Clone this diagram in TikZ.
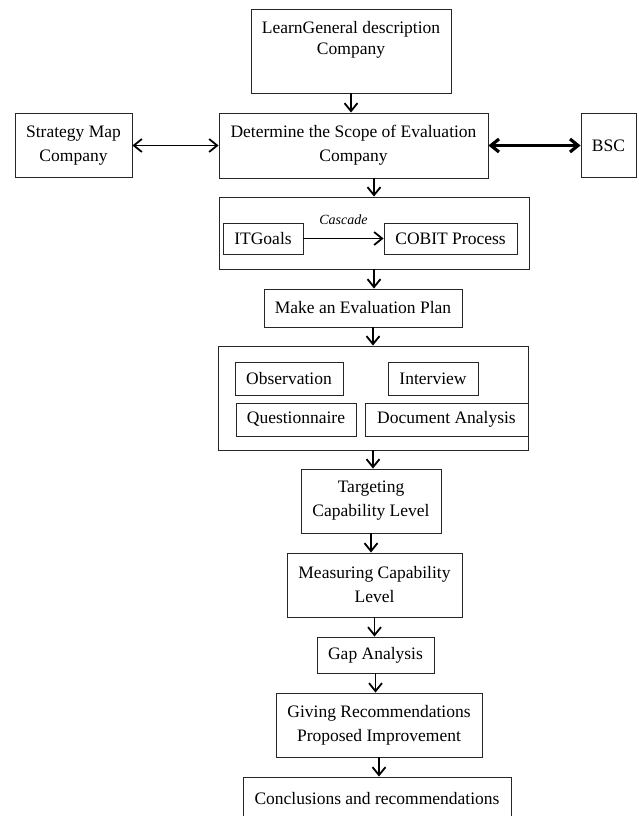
\documentclass[tikz,border=0pt]{standalone}
\usepackage{fontspec}
\setmainfont{Liberation Serif}
\usetikzlibrary{arrows.meta}
\tikzstyle{box}=[draw=black!85,line width=.9pt,rectangle,inner sep=0pt,align=center,
  font=\fontsize{17.5}{24}\selectfont]
\tikzstyle{flow}=[-{Straight Barb[length=8pt,width=13pt]},line width=1.8pt]
\tikzstyle{both}=[{Straight Barb[length=8pt,width=13pt]}-{Straight Barb[length=8pt,width=13pt]},
  line width=1.8pt]

\begin{document}
\begin{tikzpicture}[x=1pt,y=-1pt]
  \useasboundingbox (0,0) rectangle (638,816);

  % top row
  \node[box, minimum width=200pt, minimum height=84pt,
    label={[name=learntxt, anchor=north, inner sep=0pt, yshift=-13pt, align=center,
      font=\fontsize{17.5}{21}\selectfont]north:LearnGeneral description\\Company}]
    (learn) at (351,51) {};
  \node[box, minimum width=269pt, minimum height=65pt] (scope) at (353.5,145.5)
    {Determine the Scope of Evaluation\\Company};
  \node[box, minimum width=117pt, minimum height=64pt] (smap) at (73.5,145.5)
    {Strategy Map\\Company};
  \node[box, minimum width=55pt, minimum height=64pt] (bsc) at (608.5,145.5) {BSC};

  % cascade
  \node[box, minimum width=310pt, minimum height=72pt] (cascade) at (374,233) {};
  \node[box, minimum width=80pt, minimum height=31pt] (itgoals) at (263,238.5) {ITGoals};
  \node[box, minimum width=133pt, minimum height=31pt] (cobit) at (450.5,238.5) {COBIT Process};

  \node[box, minimum width=198pt, minimum height=38pt] (plan) at (363,308)
    {Make an Evaluation Plan};

  % data collection
  \node[box, minimum width=310pt, minimum height=104pt] (collect) at (373,398) {};
  \node[box, minimum width=108pt, minimum height=33pt] (obs) at (289,378.5) {Observation};
  \node[box, minimum width=90pt, minimum height=33pt] (interview) at (433,378.5) {Interview};
  \node[box, minimum width=120pt, minimum height=33pt] (quest) at (296,419.5) {Questionnaire};
  \node[box, minimum width=163pt, minimum height=33pt] (docana) at (446.5,419.5)
    {Document Analysis};

  \node[box, minimum width=140pt, minimum height=64pt] (target) at (371,501)
    {Targeting\\Capability Level};
  \node[box, minimum width=175pt, minimum height=64pt] (measure) at (374.5,585)
    {Measuring Capability\\Level};
  \node[box, minimum width=117pt, minimum height=36pt] (gap) at (375.5,655) {Gap Analysis};
  \node[box, minimum width=206pt, minimum height=64pt] (giving) at (379,725)
    {Giving Recommendations\\Proposed Improvement};
  \node[box, minimum width=268pt, minimum height=44pt] (concl) at (377,799)
    {Conclusions and recommendations};

  \draw[flow] (learn.south) -- (learn.south |- scope.north);
  \draw[both] (smap.east) -- (scope.west);
  \draw[both, line width=3.2pt] (scope.east) -- (bsc.west);
  \draw[flow] (cascade.north |- scope.south) -- (cascade.north);
  \draw[flow] (itgoals) -- (cobit)
    node[midway, above=13pt, inner sep=0pt, font=\fontsize{14}{16}\selectfont\itshape]
    (casclbl) {Cascade};
  \draw[flow] (cascade.south) -- (cascade.south |- plan.north);
  \draw[flow] (collect.north |- plan.south) -- (collect.north);
  \draw[flow] (collect.south) -- (collect.south |- target.north);
  \draw[flow] (target.south) -- (target.south |- measure.north);
  \draw[flow] (measure.south) -- (measure.south |- gap.north);
  \draw[flow] (gap.south) -- (gap.south |- giving.north);
  \draw[flow] (giving.south) -- (giving.south |- concl.north);
\end{tikzpicture}
\end{document}
